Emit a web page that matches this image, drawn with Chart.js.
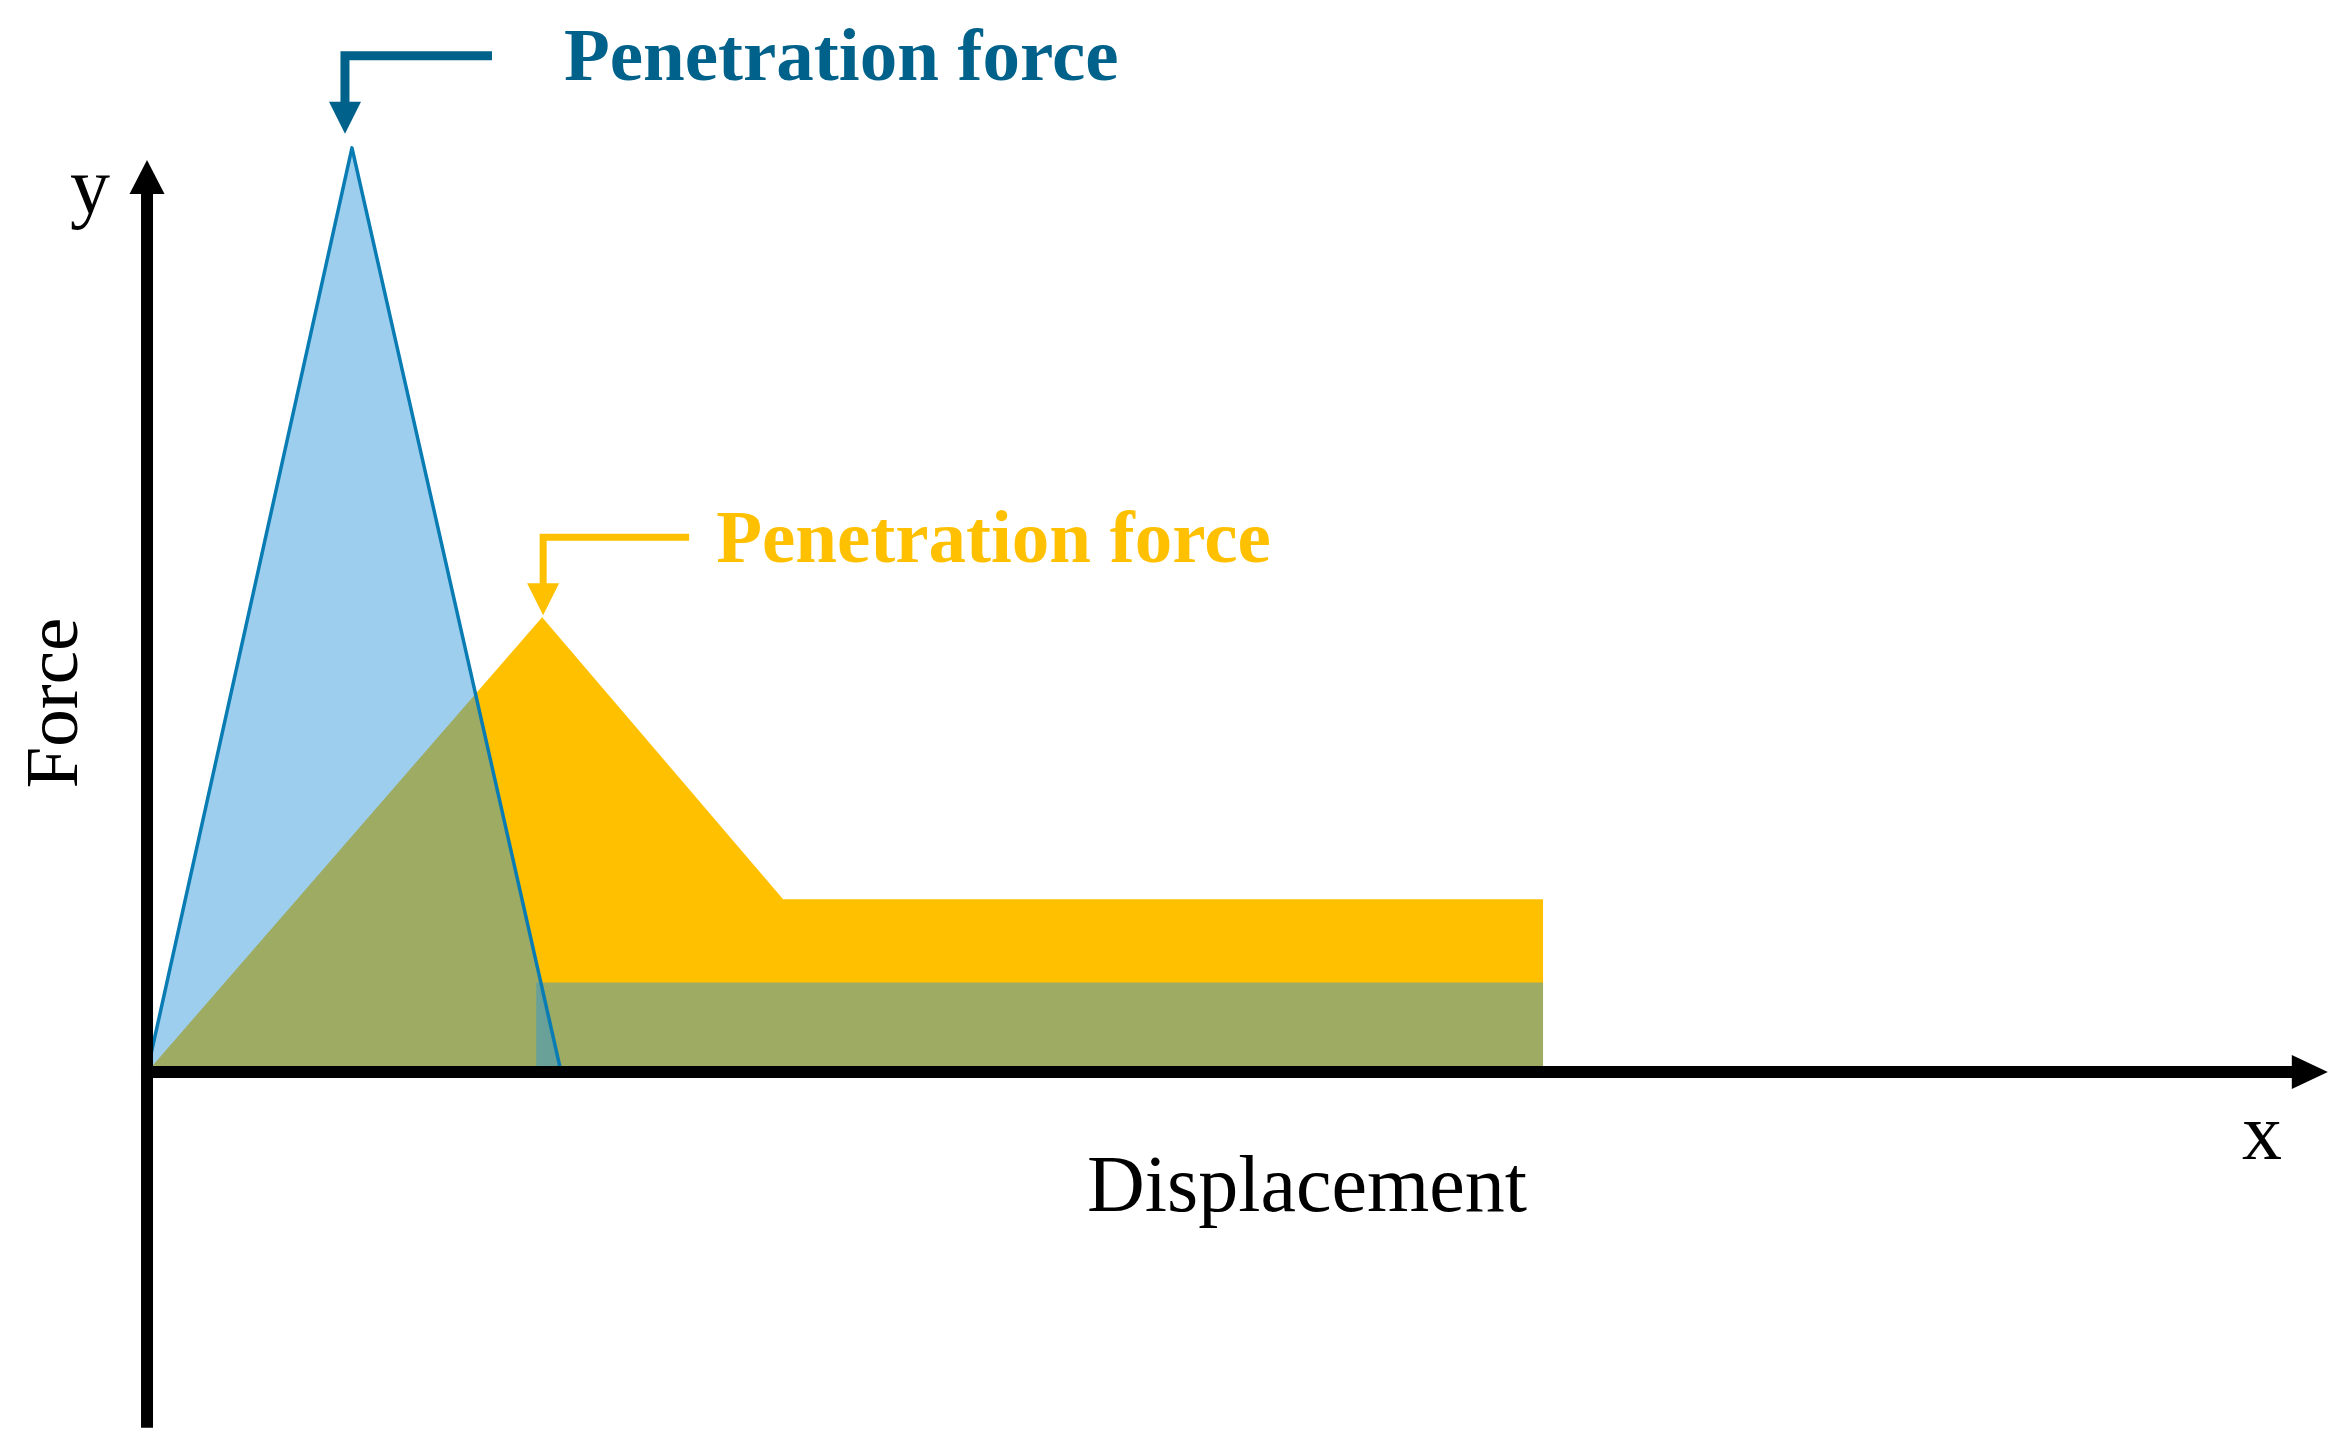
<!DOCTYPE html>
<html>
<head>
<meta charset="utf-8">
<title>Penetration force sketch</title>
<script src="https://cdn.jsdelivr.net/npm/chart.js@4.4.1/dist/chart.umd.min.js"></script>
<style>
  html, body { margin: 0; padding: 0; background: #fff; }
  canvas { display: block; }
</style>
</head>
<body>
<canvas id="forceChart" width="2339" height="1450"></canvas>
<script>
// force vs displacement (arbitrary units)
const blueX = [0, 1.468, 2.966];
const blueY = [0, 10, 0];
const residualX = [2.787, 2.787, 10, 10];
const residualY = [0, 0.97, 0.97, 0];
const orangeX = [0, 2.83, 4.556, 10, 10];
const orangeY = [0, 4.92, 1.87, 1.87, 0];
const peakLabels = ['Penetration force', 'Penetration force'];
const axisNames = ['Displacement', 'Force'];
const axisLetters = ['x', 'y'];

const toPoints = (xs, ys) => xs.map((x, i) => ({ x, y: ys[i] }));

const BLUE_TEXT = '#00628a';
const BLUE_FILL = 'rgba(40, 146, 218, 0.45)';
const ORANGE = '#ffc000';

function arrowHead(ctx, tipX, tipY, dir, len, width) {
  ctx.beginPath();
  ctx.moveTo(tipX, tipY);
  if (dir === 'right') {
    ctx.lineTo(tipX - len, tipY - width / 2);
    ctx.lineTo(tipX - len, tipY + width / 2);
  } else if (dir === 'up') {
    ctx.lineTo(tipX - width / 2, tipY + len);
    ctx.lineTo(tipX + width / 2, tipY + len);
  } else {
    ctx.lineTo(tipX - width / 2, tipY - len);
    ctx.lineTo(tipX + width / 2, tipY - len);
  }
  ctx.closePath();
  ctx.fill();
}

// bent arrow from a label down onto a peak
function peakArrow(ctx, sx, tipY, barY, barLen, lw, color, headLen, headW) {
  ctx.strokeStyle = color;
  ctx.fillStyle = color;
  ctx.lineWidth = lw;
  ctx.lineCap = 'butt';
  ctx.lineJoin = 'miter';
  ctx.beginPath();
  ctx.moveTo(sx + barLen, barY);
  ctx.lineTo(sx, barY);
  ctx.lineTo(sx, tipY - headLen + 1);
  ctx.stroke();
  arrowHead(ctx, sx, tipY, 'down', headLen, headW);
}

const sketchAxes = {
  id: 'sketchAxes',
  afterDatasetsDraw(chart, args, opts) {
    const { ctx } = chart;
    const xs = chart.scales.x, ys = chart.scales.y;
    const ox = xs.getPixelForValue(0);
    const oy = ys.getPixelForValue(0);
    ctx.save();

    // axes with arrow heads
    ctx.strokeStyle = '#000';
    ctx.fillStyle = '#000';
    ctx.lineWidth = 12;
    const xTip = xs.getPixelForValue(opts.xEnd);
    ctx.beginPath();
    ctx.moveTo(ox - 6, oy);
    ctx.lineTo(xTip - 30, oy);
    ctx.stroke();
    arrowHead(ctx, xTip, oy, 'right', 36, 34);

    const yTip = ys.getPixelForValue(opts.yEnd);
    ctx.beginPath();
    ctx.moveTo(ox, ys.getPixelForValue(opts.yStart));
    ctx.lineTo(ox, yTip + 30);
    ctx.stroke();
    arrowHead(ctx, ox, yTip, 'up', 34, 35);

    // peak annotations
    const bx = xs.getPixelForValue(blueX[1]), by = ys.getPixelForValue(blueY[1]);
    peakArrow(ctx, bx - 7, by - 14, by - 92, 147, 9, BLUE_TEXT, 32, 32);
    const gx = xs.getPixelForValue(orangeX[1]), gy = ys.getPixelForValue(orangeY[1]);
    peakArrow(ctx, gx + 1, gy - 2, gy - 80, 146, 7, ORANGE, 32, 32);

    ctx.textBaseline = 'alphabetic';
    ctx.textAlign = 'left';
    ctx.font = 'bold 75px "Liberation Serif"';
    ctx.fillStyle = BLUE_TEXT;
    ctx.fillText(peakLabels[0], bx + 212, by - 68);
    ctx.fillStyle = ORANGE;
    ctx.fillText(peakLabels[1], gx + 174, gy - 55);

    // axis names
    ctx.fillStyle = '#000';
    ctx.textAlign = 'center';
    ctx.font = '80px "Liberation Serif"';
    ctx.fillText(axisNames[0], ox + 1160, oy + 139);
    ctx.fillText(axisLetters[0], ox + 2115, oy + 87);
    ctx.fillText(axisLetters[1], ox - 57, 213);
    ctx.save();
    ctx.translate(77, 703);
    ctx.rotate(-Math.PI / 2);
    ctx.font = '75px "Liberation Serif"';
    ctx.fillText(axisNames[1], 0, 0);
    ctx.restore();

    ctx.restore();
  }
};

new Chart(document.getElementById('forceChart'), {
  type: 'scatter',
  data: {
    datasets: [
      {
        label: 'blue peak',
        data: toPoints(blueX, blueY),
        showLine: true,
        fill: 'origin',
        tension: 0,
        borderColor: '#0a7cb4',
        borderWidth: 3.5,
        borderJoinStyle: 'round',
        backgroundColor: BLUE_FILL,
        pointRadius: 0,
      },
      {
        label: 'blue residual',
        data: toPoints(residualX, residualY),
        showLine: true,
        fill: 'origin',
        tension: 0,
        borderWidth: 0,
        borderColor: 'rgba(0,0,0,0)',
        backgroundColor: BLUE_FILL,
        pointRadius: 0,
      },
      {
        label: 'orange',
        data: toPoints(orangeX, orangeY),
        showLine: true,
        fill: 'origin',
        tension: 0,
        borderWidth: 0,
        borderColor: 'rgba(0,0,0,0)',
        backgroundColor: ORANGE,
        pointRadius: 0,
      },
    ],
  },
  options: {
    responsive: false,
    animation: false,
    layout: { padding: 0 },
    scales: {
      x: { type: 'linear', display: false, min: -1.053, max: 15.70 },
      y: { type: 'linear', display: false, min: -4.09, max: 11.60 },
    },
    plugins: {
      legend: { display: false },
      tooltip: { enabled: false },
      sketchAxes: { xEnd: 15.62, yEnd: 9.87, yStart: -3.85 },
    },
  },
  plugins: [sketchAxes],
});
</script>
</body>
</html>
